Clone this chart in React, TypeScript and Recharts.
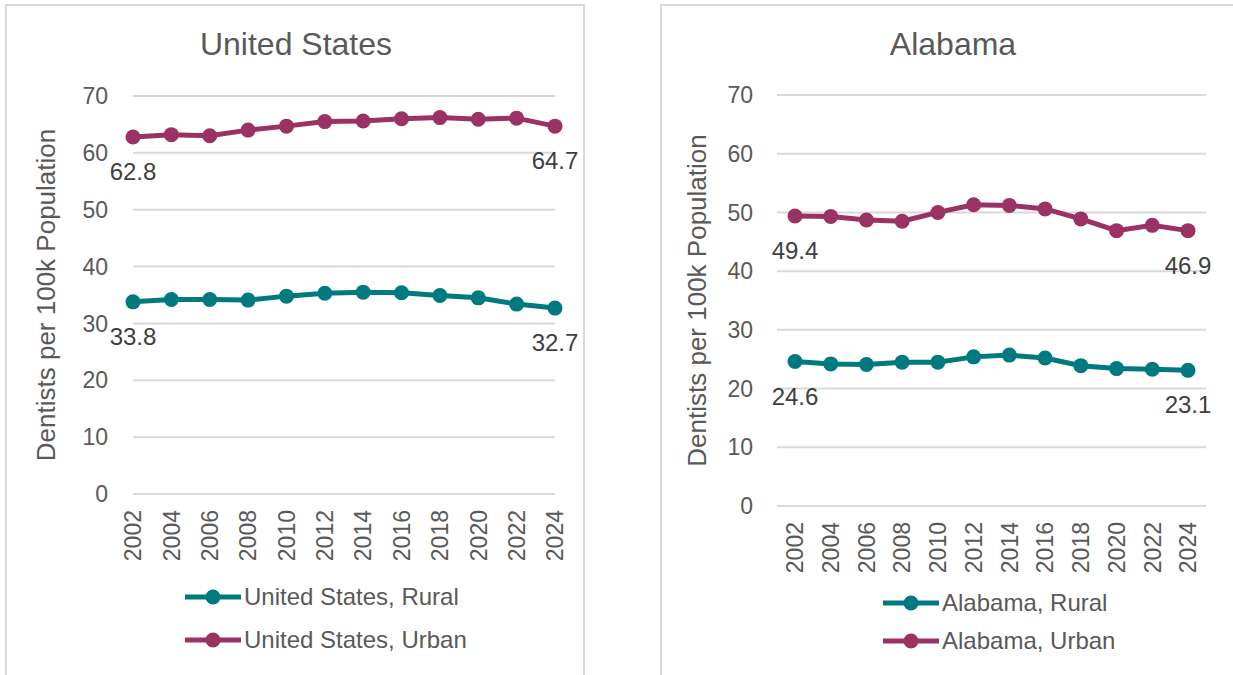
import React from 'react';
import { LineChart, Line, XAxis, YAxis, CartesianGrid, Legend, LabelList } from 'recharts';

const years = ['2002', '2004', '2006', '2008', '2010', '2012', '2014', '2016', '2018', '2020', '2022', '2024'];
const yTicks = [0, 10, 20, 30, 40, 50, 60, 70];

const usRural = [33.8, 34.2, 34.2, 34.1, 34.8, 35.3, 35.5, 35.4, 34.9, 34.5, 33.4, 32.7];
const usUrban = [62.8, 63.2, 63.0, 64.0, 64.7, 65.5, 65.6, 66.0, 66.2, 65.9, 66.1, 64.7];
const alRural = [24.6, 24.2, 24.1, 24.5, 24.5, 25.4, 25.7, 25.2, 23.9, 23.4, 23.3, 23.1];
const alUrban = [49.4, 49.3, 48.7, 48.5, 50.0, 51.3, 51.2, 50.6, 48.9, 46.9, 47.8, 46.9];

const RURAL_COLOR = '#007A7F';
const URBAN_COLOR = '#9A3264';
const TEXT = '#595959';
const FONT = '"Liberation Sans", Arial, Helvetica, sans-serif';
const Y_TITLE = 'Dentists per 100k Population';

type PanelProps = {
  title: string;
  ruralName: string;
  urbanName: string;
  rural: number[];
  urban: number[];
  left: number;
  width: number;
  margin: { top: number; right: number; bottom: number; left: number };
  yWidth: number;
  tickMargin: number;
  xPad: number;
  titleCenter: number;
  legendLeft: number;
  legendTop: number;
  legendRow: number;
};

const XTick = (props: any) => {
  const { x, y, payload } = props;
  return (
    <g transform={`translate(${x},${y})`}>
      <text transform="rotate(-90)" textAnchor="end" dy="0.36em" fill={TEXT} fontSize={23} fontFamily={FONT}>
        {payload.value}
      </text>
    </g>
  );
};

const makeEndLabel = (count: number) => (props: any) => {
  const { x, y, index, value } = props;
  if (index !== 0 && index !== count - 1) return null;
  return (
    <text x={x} y={y + 43} textAnchor="middle" fill="#404040" fontSize={24} fontFamily={FONT}>
      {Number(value).toFixed(1)}
    </text>
  );
};

const Panel = (p: PanelProps) => {
  const data = years.map((yr, i) => ({ year: yr, rural: p.rural[i], urban: p.urban[i] }));
  const items = [
    { name: p.ruralName, color: RURAL_COLOR },
    { name: p.urbanName, color: URBAN_COLOR },
  ];
  const legendContent = () => (
    <div style={{ fontFamily: FONT }}>
      {items.map((it) => (
        <div key={it.name} style={{ display: 'flex', alignItems: 'center', height: p.legendRow }}>
          <svg width={56} height={20} style={{ display: 'block' }}>
            <line x1={0} y1={10} x2={56} y2={10} stroke={it.color} strokeWidth={5} />
            <circle cx={28} cy={10} r={7.5} fill={it.color} />
          </svg>
          <span style={{ marginLeft: 3, fontSize: 24, color: TEXT, lineHeight: `${p.legendRow}px`, whiteSpace: 'nowrap' }}>
            {it.name}
          </span>
        </div>
      ))}
    </div>
  );
  return (
    <div style={{ position: 'absolute', left: p.left, top: 0, width: p.width, height: 675 }}>
      <div
        style={{
          position: 'absolute',
          left: p.titleCenter - 200,
          width: 400,
          top: 28,
          textAlign: 'center',
          fontFamily: FONT,
          fontSize: 32,
          lineHeight: '32px',
          color: TEXT,
        }}
      >
        {p.title}
      </div>
      <LineChart width={p.width} height={675} data={data} margin={p.margin} style={{ position: 'absolute', left: 0, top: 0 }}>
        <CartesianGrid vertical={false} stroke="#D9D9D9" strokeWidth={2} />
        <XAxis
          dataKey="year"
          axisLine={false}
          tickLine={false}
          tickSize={0}
          tickMargin={16}
          height={70}
          interval={0}
          padding={{ left: p.xPad, right: p.xPad }}
          tick={<XTick />}
        />
        <YAxis
          domain={[0, 70]}
          ticks={yTicks}
          width={p.yWidth}
          axisLine={false}
          tickLine={false}
          tickSize={0}
          tickMargin={p.tickMargin}
          tick={{ fill: TEXT, fontSize: 23, fontFamily: FONT }}
          label={{
            value: Y_TITLE,
            angle: -90,
            position: 'insideLeft',
            offset: 0,
            fill: TEXT,
            fontSize: 26,
            fontFamily: FONT,
            style: { textAnchor: 'middle' },
          }}
        />
        <Legend
          layout="horizontal"
          verticalAlign="middle"
          align="center"
          content={legendContent}
          wrapperStyle={{ left: p.legendLeft, top: p.legendTop, width: 'auto', height: 'auto' }}
        />
        <Line
          dataKey="rural"
          name={p.ruralName}
          stroke={RURAL_COLOR}
          strokeWidth={5}
          dot={{ r: 7.5, fill: RURAL_COLOR, stroke: RURAL_COLOR, strokeWidth: 0 }}
          activeDot={false}
          isAnimationActive={false}
        >
          <LabelList dataKey="rural" content={makeEndLabel(years.length)} />
        </Line>
        <Line
          dataKey="urban"
          name={p.urbanName}
          stroke={URBAN_COLOR}
          strokeWidth={5}
          dot={{ r: 7.5, fill: URBAN_COLOR, stroke: URBAN_COLOR, strokeWidth: 0 }}
          activeDot={false}
          isAnimationActive={false}
        >
          <LabelList dataKey="urban" content={makeEndLabel(years.length)} />
        </Line>
      </LineChart>
    </div>
  );
};

export default function App() {
  return (
    <div style={{ position: 'fixed', left: 0, top: 0, width: 1233, height: 675, overflow: 'hidden', background: '#fff' }}>
      <div style={{ position: 'absolute', left: 5, top: 4, width: 576, height: 700, border: '2px solid #D9D9D9' }} />
      <div style={{ position: 'absolute', left: 660, top: 4, width: 600, height: 700, border: '2px solid #D9D9D9' }} />
      <Panel
        title="United States"
        ruralName="United States, Rural"
        urbanName="United States, Urban"
        rural={usRural}
        urban={usUrban}
        left={0}
        width={600}
        margin={{ top: 96, right: 45, bottom: 111, left: 46 }}
        yWidth={87}
        tickMargin={25}
        xPad={0}
        titleCenter={296}
        legendLeft={185}
        legendTop={575}
        legendRow={43}
      />
      <Panel
        title="Alabama"
        ruralName="Alabama, Rural"
        urbanName="Alabama, Urban"
        rural={alRural}
        urban={alUrban}
        left={640}
        width={593}
        margin={{ top: 95, right: 27, bottom: 99, left: 57 }}
        yWidth={80}
        tickMargin={24}
        xPad={18}
        titleCenter={313}
        legendLeft={243}
        legendTop={584}
        legendRow={38}
      />
    </div>
  );
}
